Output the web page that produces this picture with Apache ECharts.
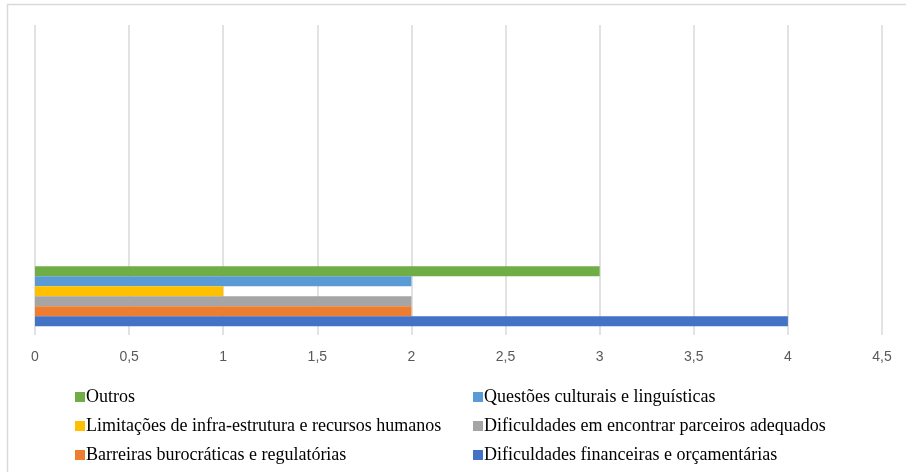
<!DOCTYPE html>
<html>
<head>
<meta charset="utf-8">
<style>
  html, body { margin: 0; padding: 0; background: #fff; }
  #main { width: 906px; height: 472px; }
</style>
<script src="https://cdn.jsdelivr.net/npm/echarts@6/dist/echarts.min.js"></script>
</head>
<body>
<div id="main"></div>
<script>
// dados do gráfico (de cima para baixo, como no Excel)
var categorias = ['Desafios'];
var series_nomes = [
  'Outros',
  'Questões culturais e linguísticas',
  'Limitações de infra-estrutura e recursos humanos',
  'Dificuldades em encontrar parceiros adequados',
  'Barreiras burocráticas e regulatórias',
  'Dificuldades financeiras e orçamentárias'
];
var valores = [3, 2, 1, 2, 2, 4];
var cores = ['#70AD47', '#5B9BD5', '#FFC000', '#A5A5A5', '#ED7D31', '#4472C4'];
var legenda_col1 = ['Outros', 'Limitações de infra-estrutura e recursos humanos', 'Barreiras burocráticas e regulatórias'];
var legenda_col2 = ['Questões culturais e linguísticas', 'Dificuldades em encontrar parceiros adequados', 'Dificuldades financeiras e orçamentárias'];

var myChart = echarts.init(document.getElementById('main'));

var series = series_nomes.map(function (nome, i) {
  return {
    name: nome,
    type: 'bar',
    barWidth: 10,
    barGap: '0%',
    itemStyle: { color: cores[i] },
    data: [valores[i]]
  };
});

var legendaBase = {
  orient: 'vertical',
  icon: 'rect',
  itemWidth: 10,
  itemHeight: 10,
  itemGap: 11,
  selectedMode: false,
  textStyle: { fontFamily: 'Liberation Serif', fontSize: 18, color: '#000', padding: [0, 0, 0, -4] }
};

option = {
  animation: false,
  graphic: [{
    type: 'rect',
    shape: { x: 7.5, y: 4.5, width: 1000, height: 1000 },
    style: { fill: 'none', stroke: '#d9d9d9', lineWidth: 1.5 },
    silent: true
  }],
  grid: { left: 35, right: 24, top: 25, bottom: 137 },
  xAxis: {
    type: 'value',
    min: 0,
    max: 4.5,
    interval: 0.5,
    axisLine: { show: false },
    axisTick: { show: false },
    splitLine: { lineStyle: { color: '#d9d9d9', width: 1.5 } },
    axisLabel: {
      margin: 15,
      color: '#595959',
      fontFamily: 'Liberation Sans',
      fontSize: 14,
      formatter: function (v) { return String(v).replace('.', ','); }
    }
  },
  yAxis: {
    type: 'category',
    data: categorias,
    max: 3,
    axisLine: { show: false },
    axisTick: { show: false },
    axisLabel: { show: false }
  },
  legend: [
    Object.assign({}, legendaBase, { left: 70, top: 383, data: legenda_col1 }),
    Object.assign({}, legendaBase, { left: 468, top: 383, data: legenda_col2 })
  ],
  series: series
};

myChart.setOption(option);
</script>
</body>
</html>
